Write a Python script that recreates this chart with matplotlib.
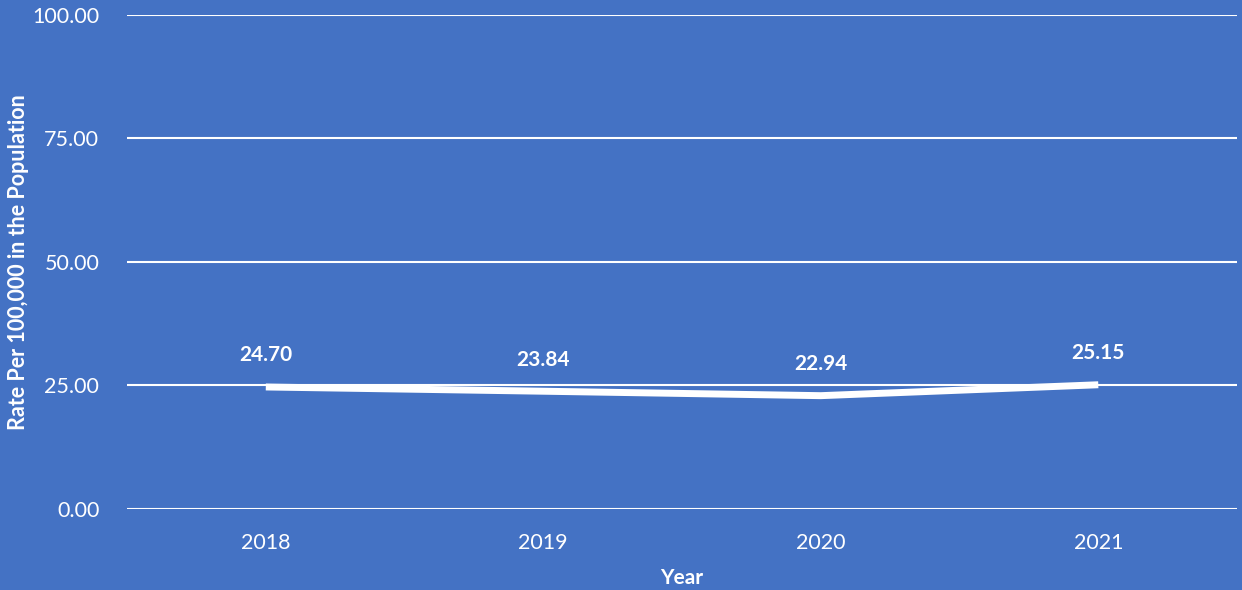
import matplotlib.pyplot as plt

years = ["2018", "2019", "2020", "2021"]
rates = [24.70, 23.84, 22.94, 25.15]
y_ticks = [0, 25, 50, 75, 100]

bg = "#4472C4"
plt.rcParams["font.family"] = ["Lato", "DejaVu Sans"]

fig = plt.figure(figsize=(12.42, 5.90), dpi=100, facecolor=bg)
ax = fig.add_axes([0.1023, 0.1373, 0.8937, 0.8373], facecolor=bg)

x = range(len(years))
ax.plot(x, rates, color="white", linewidth=5, solid_capstyle="butt", zorder=3)

for xi, v in zip(x, rates):
    ax.annotate(f"{v:.2f}", (xi, v), xytext=(0, 15.5), textcoords="offset points",
                ha="center", va="bottom", color="white", fontsize=15, fontweight="bold")

ax.set_xlim(-0.5, len(years) - 0.5)
ax.set_ylim(0, 100)
ax.set_xticks(list(x))
ax.set_xticklabels(years)
ax.set_yticks(y_ticks)
ax.set_yticklabels([f"{t:.2f}" for t in y_ticks])
ax.tick_params(colors="white", labelsize=15.5, length=0)
ax.tick_params(axis="y", pad=20)
ax.tick_params(axis="x", pad=17)
ax.grid(axis="y", color="white", linewidth=1.5)
ax.set_axisbelow(True)
for s in ax.spines.values():
    s.set_visible(False)

ax.set_xlabel("Year", color="white", fontsize=15, fontweight="bold", va="center")
ax.xaxis.set_label_coords(0.5, -0.14)
ax.set_ylabel("Rate Per 100,000 in the Population", color="white", fontsize=15.5,
              fontweight="bold", va="center")
ax.yaxis.set_label_coords(-0.098, 0.5)

fig.savefig("out.png", dpi=100, facecolor=bg)
